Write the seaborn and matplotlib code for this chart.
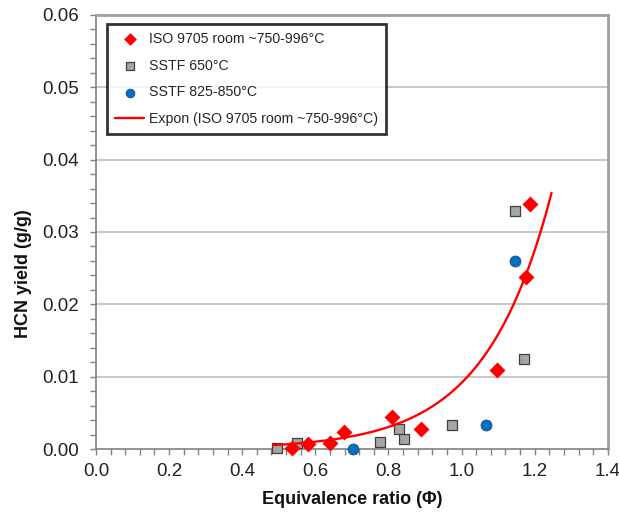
import numpy as np
import pandas as pd
import matplotlib
matplotlib.use("Agg")
import matplotlib.pyplot as plt
import seaborn as sns
from matplotlib.ticker import MultipleLocator, FormatStrFormatter

# ---- data ----
iso_x = [0.537, 0.579, 0.639, 0.678, 0.809, 0.888, 1.096, 1.176, 1.186]
iso_y = [0.0002, 0.0007, 0.0009, 0.0024, 0.0044, 0.0028, 0.0109, 0.0238, 0.0339]

sstf650_x = [0.494, 0.550, 0.777, 0.828, 0.843, 0.974, 1.146, 1.171]
sstf650_y = [0.0002, 0.0008, 0.0010, 0.0028, 0.0014, 0.0033, 0.0329, 0.0125]

sstf825_x = [0.702, 1.067, 1.146]
sstf825_y = [0.0000, 0.0033, 0.0260]

# exponential trendline (y = a * exp(b * x)) fitted to ISO 9705 data
fit_a = 3.74e-5
fit_b = 5.5
fit_range = [0.485, 1.246]

labels = ["ISO 9705 room ~750-996°C", "SSTF 650°C", "SSTF 825-850°C",
          "Expon (ISO 9705 room ~750-996°C)"]

sns.set_theme(style="white")
plt.rcParams['font.family'] = ['Liberation Sans', 'DejaVu Sans']

fig = plt.figure(figsize=(6.19, 5.16), dpi=100)
ax = fig.add_axes([0.155, 0.1298, 0.827, 0.8412])

pts = pd.concat([
    pd.DataFrame({"x": iso_x, "y": iso_y, "s": labels[0]}),
    pd.DataFrame({"x": sstf650_x, "y": sstf650_y, "s": labels[1]}),
    pd.DataFrame({"x": sstf825_x, "y": sstf825_y, "s": labels[2]}),
])

fx = np.linspace(fit_range[0], fit_range[1], 200)
fy = fit_a * np.exp(fit_b * fx)
fit_df = pd.DataFrame({"x": fx, "y": fy})

for yv in [0.01, 0.02, 0.03, 0.04, 0.05]:
    ax.axhline(yv, color="#BFBFBF", lw=1.2, zorder=0)

sns.scatterplot(data=pts[pts.s == labels[1]], x="x", y="y", marker="s", s=55,
                color="#A6A6A6", edgecolor="#404040", linewidth=0.9, ax=ax,
                label=labels[1], zorder=3, clip_on=False)
sns.scatterplot(data=pts[pts.s == labels[2]], x="x", y="y", marker="o", s=62,
                color="#0070C0", edgecolor="#1F4E79", linewidth=0.6, ax=ax,
                label=labels[2], zorder=3, clip_on=False)
sns.scatterplot(data=pts[pts.s == labels[0]], x="x", y="y", marker="D", s=66,
                color="#FF0000", edgecolor="#FF0000", linewidth=0, ax=ax,
                label=labels[0], zorder=4, clip_on=False)
sns.lineplot(data=fit_df, x="x", y="y", color="#FF0000", lw=1.7, ax=ax,
             label=labels[3], zorder=5)

ax.set_xlim(0, 1.4)
ax.set_ylim(0, 0.06)
ax.xaxis.set_major_locator(MultipleLocator(0.2))
ax.xaxis.set_minor_locator(MultipleLocator(0.04))
ax.yaxis.set_major_locator(MultipleLocator(0.01))
ax.yaxis.set_minor_locator(MultipleLocator(0.002))
ax.xaxis.set_major_formatter(FormatStrFormatter("%.1f"))
ax.yaxis.set_major_formatter(FormatStrFormatter("%.2f"))

ax.tick_params(axis="both", which="both", direction="out", length=4,
               width=1, color="#808080", labelsize=13.5, labelcolor="#222222",
               bottom=True, left=True)
ax.tick_params(axis="x", pad=6)
ax.tick_params(axis="y", pad=8)

for side in ["left", "bottom"]:
    ax.spines[side].set_color("#808080")
    ax.spines[side].set_linewidth(1.2)
for side in ["top", "right"]:
    ax.spines[side].set_color("#A0A0A0")
    ax.spines[side].set_linewidth(2)

ax.set_xlabel("Equivalence ratio (Φ)", fontsize=13, fontweight="bold",
              color="#111111", labelpad=8)
ax.set_ylabel("HCN yield (g/g)", fontsize=13, fontweight="bold",
              color="#111111")
ax.yaxis.set_label_coords(-0.125, 0.403)

h, l = ax.get_legend_handles_labels()
order = [l.index(x) for x in labels]
leg = ax.legend([h[i] for i in order], [l[i] for i in order],
                loc="upper left", bbox_to_anchor=(0.0215, 0.979),
                fontsize=10.2, frameon=True, fancybox=False,
                edgecolor="black", borderpad=0.55, labelspacing=0.9,
                handlelength=2.1, handletextpad=0.3, borderaxespad=0,
                markerscale=0.8)
leg.get_frame().set_linewidth(2)
leg.get_frame().set_facecolor("white")

fig.savefig("out.png", dpi=100)
